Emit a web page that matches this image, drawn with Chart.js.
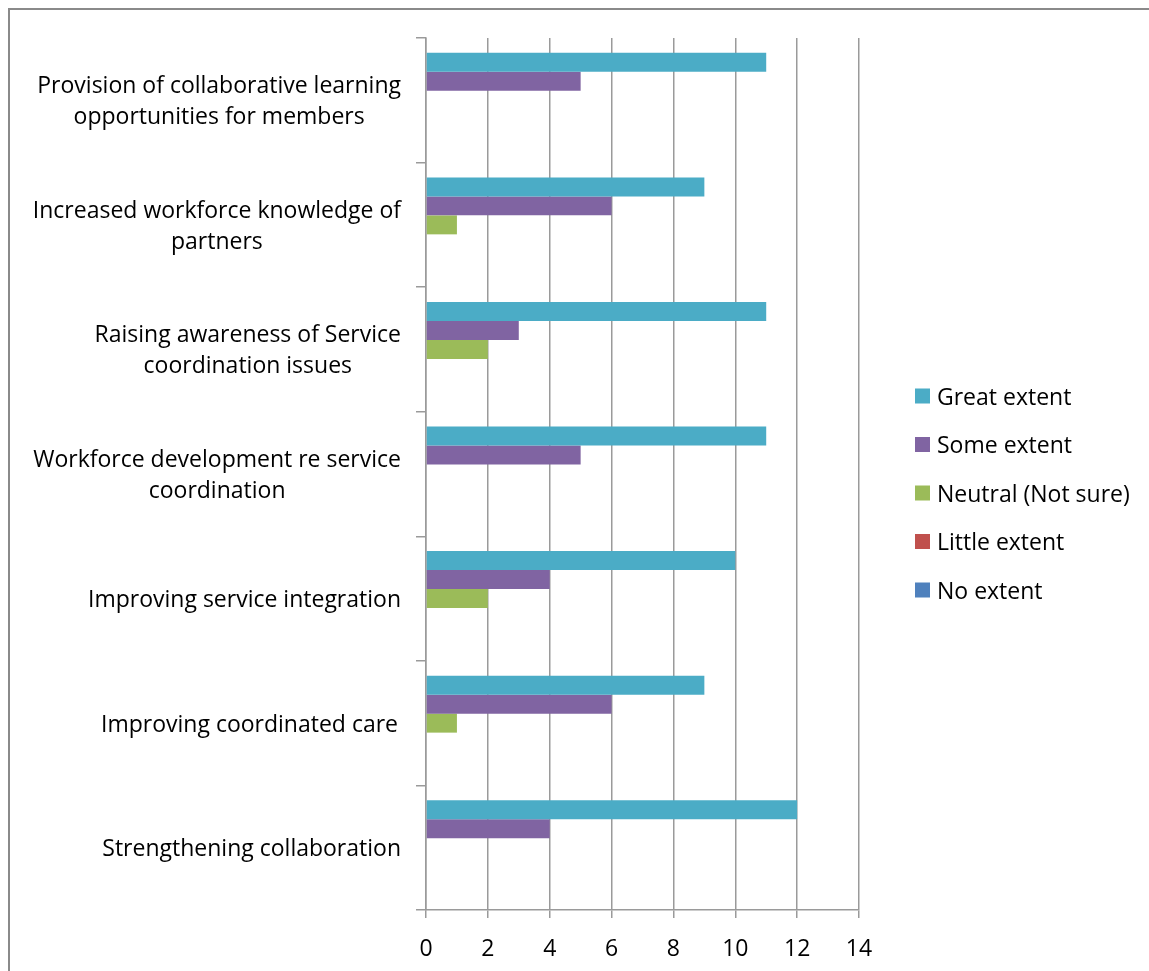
<!DOCTYPE html>
<html>
<head>
<meta charset="utf-8">
<script src="https://cdn.jsdelivr.net/npm/chart.js@4"></script>
<style>
  html, body { margin: 0; padding: 0; background: #fff; }
  #wrap { position: relative; width: 1149px; height: 971px; overflow: hidden; }
  #frame {
    position: absolute; left: 8px; top: 8px; width: 1200px; height: 1000px;
    border-left: 2px solid #8a8a8a; border-top: 2px solid #8a8a8a;
  }
  canvas { position: absolute; left: 0; top: 0; }
</style>
</head>
<body>
<div id="wrap">
  <div id="frame"></div>
  <canvas id="chart" width="1149" height="971"></canvas>
</div>
<script>
// categories, top to bottom; each entry is the wrapped label lines
const categories = [
  ['Provision of collaborative learning', 'opportunities for members'],
  ['Increased workforce knowledge of', 'partners'],
  ['Raising awareness of Service', 'coordination issues'],
  ['Workforce development re service', 'coordination'],
  ['Improving service integration'],
  ['Improving coordinated care '],
  ['Strengthening collaboration']
]

const greatExtent   = [11, 9, 11, 11, 10, 9, 12]
const someExtent    = [5, 6, 3, 5, 4, 6, 4]
const neutralExtent = [0, 1, 2, 0, 2, 1, 0]
const littleExtent  = [0, 0, 0, 0, 0, 0, 0]
const noExtent      = [0, 0, 0, 0, 0, 0, 0]

const seriesNames = ['Great extent', 'Some extent', 'Neutral (Not sure)', 'Little extent', 'No extent']
const seriesColors = ['#4BACC6', '#8064A2', '#9BBB59', '#C0504D', '#4F81BD']
const seriesValues = [greatExtent, someExtent, neutralExtent, littleExtent, noExtent]

const xTicks = [0, 2, 4, 6, 8, 10, 12, 14]

const FONT = '"Open Sans"'
const FONT_SIZE = 23
const AXIS_GRAY = '#9a9a9a'

// wrapped category labels: lines centred on the widest line, right edge fixed
const categoryLabels = {
  id: 'categoryLabels',
  afterDraw: (chart) => {
    const ctx = chart.ctx
    const yScale = chart.scales.y
    const right = yScale.right - 25
    const lineHeight = 31

    ctx.save()
    ctx.font = FONT_SIZE + 'px ' + FONT
    ctx.fillStyle = '#000'
    ctx.textAlign = 'center'
    ctx.textBaseline = 'middle'

    categories.forEach((lines, i) => {
      const y = yScale.getPixelForValue(i) + 2
      const widest = Math.max(...lines.map(l => ctx.measureText(l.trim()).width))
      const x = right - widest / 2
      lines.forEach((line, j) => {
        ctx.fillText(line, x, y + (j - (lines.length - 1) / 2) * lineHeight)
      })
    })
    ctx.restore()
  }
}

// legend column to the right of the plot
const sideLegend = {
  id: 'sideLegend',
  afterDraw: (chart) => {
    const ctx = chart.ctx
    const datasets = chart.data.datasets
    const boxX = chart.chartArea.right + 56
    const spacing = 48.5
    const firstY = 396

    ctx.save()
    ctx.font = FONT_SIZE + 'px ' + FONT
    ctx.textAlign = 'left'
    ctx.textBaseline = 'middle'

    datasets.forEach((ds, i) => {
      const y = firstY + i * spacing
      ctx.fillStyle = ds.backgroundColor
      ctx.fillRect(boxX, y - 7.5, 15, 15)
      ctx.fillStyle = '#000'
      ctx.fillText(ds.label, boxX + 22, y + 2)
    })
    ctx.restore()
  }
}

const ctx = document.getElementById('chart').getContext('2d')
const chart = new Chart(ctx, {
  type: 'bar',
  data: {
    labels: categories.map(lines => lines.join(' ')),
    datasets: seriesNames.map((name, i) => ({
      label: name,
      data: seriesValues[i],
      backgroundColor: seriesColors[i],
      borderWidth: 0,
      categoryPercentage: 0.762,
      barPercentage: 1
    }))
  },
  options: {
    indexAxis: 'y',
    responsive: false,
    animation: false,
    layout: {
      padding: { top: 38, right: 290, bottom: 0, left: 0 }
    },
    plugins: {
      legend: { display: false },
      tooltip: { enabled: false }
    },
    scales: {
      x: {
        min: 0,
        max: 14,
        afterBuildTicks: (scale) => {
          scale.ticks = xTicks.map(v => ({ value: v }))
        },
        afterFit: (scale) => {
          scale.height = 61
        },
        grid: {
          color: AXIS_GRAY,
          lineWidth: 1.5,
          tickLength: 8
        },
        border: { color: AXIS_GRAY, width: 1.5 },
        ticks: {
          font: { family: FONT, size: FONT_SIZE },
          color: '#000',
          padding: 18
        }
      },
      y: {
        afterFit: (scale) => {
          scale.width = 426
        },
        grid: {
          offset: true,
          drawOnChartArea: false,
          drawTicks: true,
          tickLength: 10,
          color: AXIS_GRAY,
          lineWidth: 1.5
        },
        border: { color: AXIS_GRAY, width: 1.5 },
        ticks: { display: false }
      }
    }
  },
  plugins: [categoryLabels, sideLegend]
})
</script>
</body>
</html>
